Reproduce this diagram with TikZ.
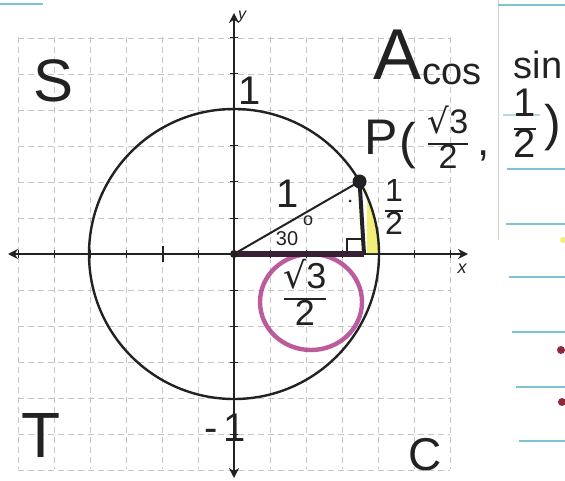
\documentclass[tikz,border=0pt]{standalone}
\usepackage{fontspec}
\setmainfont{Liberation Sans}
\newfontfamily\dvs{DejaVu Sans}
\usetikzlibrary{arrows.meta,calc}
\definecolor{ink}{HTML}{222222}
\definecolor{magentaink}{HTML}{B0408C}
\definecolor{hl}{HTML}{F2EE7A}
\definecolor{rule}{HTML}{7CC3D3}
\definecolor{basecol}{HTML}{3A2035}
\definecolor{redmark}{HTML}{8E2A3C}
\newcommand\hfr[2]{{\renewcommand\arraystretch{0.9}\setlength\arrayrulewidth{1pt}\begin{tabular}{@{}c@{}}#1\\\hline #2\end{tabular}}}
\newcommand\fs[1]{\fontsize{#1}{#1}\selectfont}
\begin{document}
\begin{tikzpicture}[x=0.5pt,y=-0.5pt,
  gridline/.style={gray!45, densely dashed, line width=0.35pt},
  axis/.style={ink, line width=0.9pt, {Stealth[length=5pt,width=5pt]}-{Stealth[length=5pt,width=5pt]}},
  hand/.style={text=ink, inner sep=0pt, anchor=center},
  tick/.style={ink, line width=0.5pt},
  notebook/.style={rule, line width=0.6pt}]
\useasboundingbox (0,0) rectangle (565,480);
\fill[white] (0,0) rectangle (565,480);

% graph-paper grid
\foreach \k in {-6,...,6} {
  \draw[gridline] ({234+36*\k},37) -- ({234+36*\k},469);
  \draw[gridline] (18,{254+36*\k}) -- (450,{254+36*\k});
}

% notebook margin on the right
\draw[gray!35, line width=0.4pt] (498,0) -- (498,240);
\draw[notebook] (0,4) -- (43,4);
\draw[notebook] (498,5) -- (565,5);
\draw[notebook, opacity=0.6] (503,115) -- (540,115);
\foreach \yy/\xx in {169/507,224/506,277/509,332/512,387/516,441/519}
  \draw[notebook] (\xx,\yy) -- (565,\yy);
\fill[redmark] (561,350) circle[radius=4];
\fill[redmark] (562,402) circle[radius=4];
\fill[hl] (563,240) circle[radius=3];

% key points
\coordinate (O) at (234,254);
\coordinate (P) at ($(O)+(-30:145)$);
\coordinate (F) at (364,254);
\coordinate (XL) at (8,254);
\coordinate (XR) at (468,254);
\coordinate (YT) at (234,13);
\coordinate (YB) at (234,478);

% axes
\draw[axis] (XL) -- (XR);
\draw[axis] (YB) -- (YT);
\foreach \k in {-6,...,6} {
  \draw[tick] ({234+36*\k},250) -- ({234+36*\k},258);
  \draw[tick] (230,{254+36*\k}) -- (238,{254+36*\k});
}
\draw[ink, line width=1.2pt] (163,246) -- (163,262);

% yellow highlight between the leg and the arc
\fill[hl] (367,253) -- (379,253) arc[start angle=0, end angle=-27, radius=145] -- (367,190) -- cycle;

% unit circle
\draw[ink, line width=1.2pt] (O) circle[radius=145];

% purple circle around the cosine label
\draw[magentaink, line width=2.2pt, opacity=0.85] (311,302) ellipse[x radius=51, y radius=48];

% triangle
\draw[ink, line width=1pt] (O) -- (P);
\draw[ink, line width=2pt] (P) -- (F);
\draw[basecol, line width=2.7pt] (O) -- (F);
\draw[ink, line width=0.7pt] (347,253) -- (347,239) -- (361,239);
\fill[ink] (P) circle[radius=7];
\fill[ink] (O) circle[radius=4];
\fill[ink] (350,201) circle[radius=1.5];

% labels
\node[hand, font=\fs{30}] (S) at (54,81) {S};
\node[hand, font=\fs{36}] (A) at (398,55) {A};
\node[hand, font=\fs{32}] (T) at (41,435) {T};
\node[hand, font=\fs{23}] (C) at (425,455) {C};
\node[hand, font=\fs{19}] (cos) at (452,74) {cos};
\node[hand, font=\fs{19}] (sin) at (538,65) {sin};
\node[hand, font=\fs{20}] (py) at (525,129) {\hfr{1}{2}};
\node[hand, font=\fs{25}] (Plab) at (381,137) {P};
\node[hand, font=\fs{25}] (lp) at (408,146) {(};
\node[hand, font=\fs{17}] (px) at (448,142) {\hfr{{\dvs √}3}{2}};
\node[hand, font=\fs{22}] (comma) at (484,156) {,};
\node[hand, font=\fs{25}] (rp) at (553,128) {)};
\node[hand, font=\fs{16}] (half) at (394,211) {\hfr{1}{2}};
\node[hand, font=\fs{18}] (root) at (305,297) {\hfr{{\dvs √}3}{2}};
\node[hand, font=\fs{20}] (hyp) at (288,194) {1};
\node[hand, font=\fs{20}] (one) at (250,91) {1};
\node[hand, font=\fs{20}] (mone) at (225,428) {-\kern3pt1};
\node[hand, font=\fs{10}] (ang) at (287,239) {30};
\node[hand, font=\fs{9}] (deg) at (308,221) {o};
\node[hand, font=\fs{8}\itshape] (ylab) at (242,17) {y};
\node[hand, font=\fs{9}\itshape] (xlab) at (462,269) {x};
\end{tikzpicture}
\end{document}
